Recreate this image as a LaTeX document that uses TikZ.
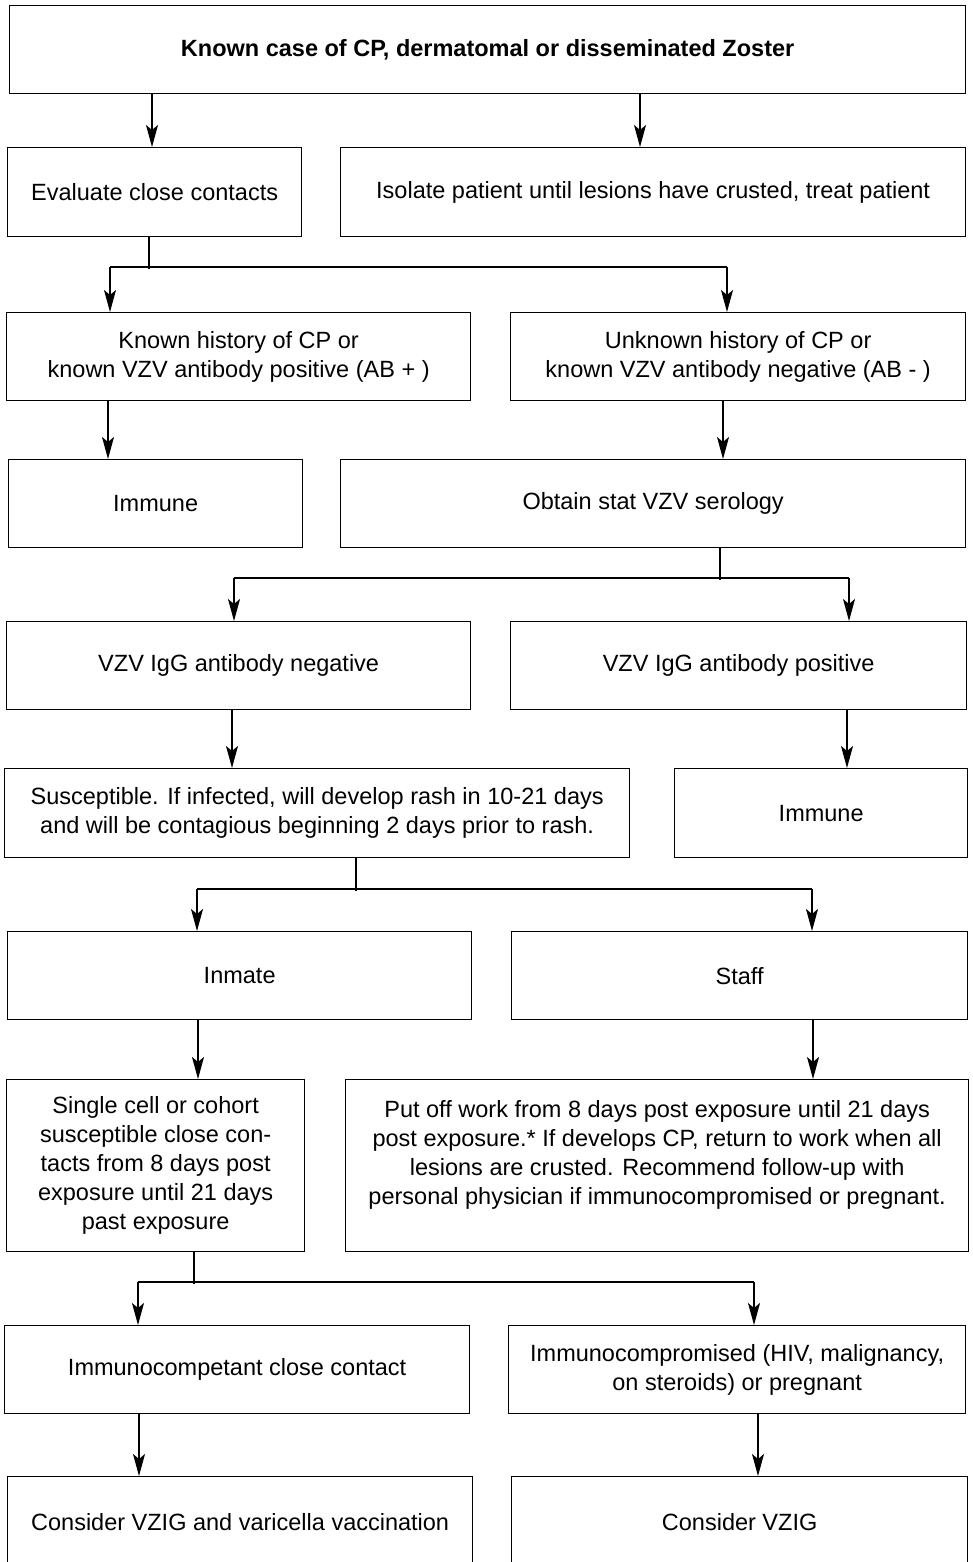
\documentclass[tikz,border=0pt]{standalone}
\usepackage{fontspec}
\setmainfont{Liberation Sans}
\usetikzlibrary{arrows.meta}
\begin{document}
\begin{tikzpicture}[x=1pt,y=-1pt,
  box/.style={draw=black, line width=1.3pt, inner sep=0pt, align=center, anchor=north west,
    font=\fontsize{23.5}{29}\selectfont},
  txt/.style={inner sep=0pt, align=center, font=\fontsize{23.5}{29}\selectfont},
  conn/.style={line width=1.3pt},
  arr/.style={conn, -{Stealth[length=22pt,width=12pt,inset=5pt]}}]
\useasboundingbox (0,0) rectangle (972,1562);
\clip (0,0) rectangle (972,1562);

% boxes
\node[box, minimum width=956pt, minimum height=88pt] (top) at (9,5) {\textbf{Known case of CP, dermatomal or disseminated Zoster}};
\node[box, minimum width=294pt, minimum height=89pt] (eval) at (7,147) {Evaluate close contacts};
\node[box, minimum width=625pt, minimum height=89pt] (isolate) at (340,147) {Isolate patient until lesions have crusted, treat patient};
\node[box, minimum width=464pt, minimum height=88pt] (known) at (6,312) {Known history of CP or\\known VZV antibody positive (AB + )};
\node[box, minimum width=455pt, minimum height=88pt] (unknown) at (510,312) {Unknown history of CP or\\known VZV antibody negative (AB - )};
\node[box, minimum width=294pt, minimum height=88pt] (immuneA) at (8,459) {Immune};
\node[box, minimum width=625pt, minimum height=88pt] (obtain) at (340,459) {Obtain stat VZV serology};
\node[box, minimum width=464pt, minimum height=88pt] (neg) at (6,621) {VZV IgG antibody negative};
\node[box, minimum width=456pt, minimum height=88pt] (pos) at (510,621) {VZV IgG antibody positive};
\node[box, minimum width=625pt, minimum height=89pt] (susc) at (4,768) {Susceptible. If infected, will develop rash in 10-21 days\\and will be contagious beginning 2 days prior to rash.};
\node[box, minimum width=293pt, minimum height=89pt] (immuneB) at (674,768) {Immune};
\node[box, minimum width=464pt, minimum height=88pt] (inmate) at (7,931) {Inmate};
\node[box, minimum width=456pt, minimum height=88pt] (staff) at (511,931) {Staff};
\node[box, minimum width=298pt, minimum height=172pt] (single) at (6,1079) {Single cell or cohort\\susceptible close con-\\tacts from 8 days post\\exposure until 21 days\\past exposure};
\node[box, minimum width=623pt, minimum height=172pt] (putoff) at (345,1079) {};
\node[txt] (putofftxt) at ([yshift=11pt]putoff.center) {Put off work from 8 days post exposure until 21 days\\post exposure.* If develops CP, return to work when all\\lesions are crusted. Recommend follow-up with\\personal physician if immunocompromised or pregnant.};
\node[box, minimum width=465pt, minimum height=88pt] (icomp) at (4,1325) {Immunocompetant close contact};
\node[box, minimum width=457pt, minimum height=88pt] (icompro) at (508,1325) {Immunocompromised (HIV, malignancy,\\on steroids) or pregnant};
\node[box, minimum width=465pt, minimum height=90pt] (vzigvar) at (7,1476) {Consider VZIG and varicella vaccination};
\node[box, minimum width=456pt, minimum height=90pt] (vzig) at (511,1476) {Consider VZIG};

% x positions of simple arrows
\coordinate (a1) at (152,0);
\coordinate (a2) at (640,0);
\coordinate (b1) at (108,0);
\coordinate (b2) at (723,0);
\coordinate (c1) at (232,0);
\coordinate (c2) at (847,0);
\coordinate (d1) at (198,0);
\coordinate (d2) at (813,0);
\coordinate (e1) at (139,0);
\coordinate (e2) at (758,0);
% branch junctions
\coordinate (j1) at (149,267);
\coordinate (j1L) at (110,267);
\coordinate (j1R) at (727,267);
\coordinate (j2) at (720,578);
\coordinate (j2L) at (234,578);
\coordinate (j2R) at (849,578);
\coordinate (j3) at (356,889);
\coordinate (j3L) at (197,889);
\coordinate (j3R) at (812,889);
\coordinate (j4) at (194,1282);
\coordinate (j4L) at (138,1282);
\coordinate (j4R) at (754,1282);

% connectors
\draw[arr] (top.south -| a1) -- (eval.north -| a1);
\draw[arr] (top.south -| a2) -- (isolate.north -| a2);

\draw[conn] (eval.south -| j1) -- ([yshift=-1.5pt]j1);
\draw[conn] (j1L) -- (j1R);
\draw[arr] (j1L) -- (known.north -| j1L);
\draw[arr] (j1R) -- (unknown.north -| j1R);

\draw[arr] (known.south -| b1) -- (immuneA.north -| b1);
\draw[arr] (unknown.south -| b2) -- (obtain.north -| b2);

\draw[conn] (obtain.south -| j2) -- ([yshift=-1.5pt]j2);
\draw[conn] (j2L) -- (j2R);
\draw[arr] (j2L) -- (neg.north -| j2L);
\draw[arr] (j2R) -- (pos.north -| j2R);

\draw[arr] (neg.south -| c1) -- (susc.north -| c1);
\draw[arr] (pos.south -| c2) -- (immuneB.north -| c2);

\draw[conn] (susc.south -| j3) -- ([yshift=-1.5pt]j3);
\draw[conn] (j3L) -- (j3R);
\draw[arr] (j3L) -- (inmate.north -| j3L);
\draw[arr] (j3R) -- (staff.north -| j3R);

\draw[arr] (inmate.south -| d1) -- (single.north -| d1);
\draw[arr] (staff.south -| d2) -- (putoff.north -| d2);

\draw[conn] (single.south -| j4) -- ([yshift=-1.5pt]j4);
\draw[conn] (j4L) -- (j4R);
\draw[arr] (j4L) -- (icomp.north -| j4L);
\draw[arr] (j4R) -- (icompro.north -| j4R);

\draw[arr] (icomp.south -| e1) -- (vzigvar.north -| e1);
\draw[arr] (icompro.south -| e2) -- (vzig.north -| e2);
\end{tikzpicture}
\end{document}
